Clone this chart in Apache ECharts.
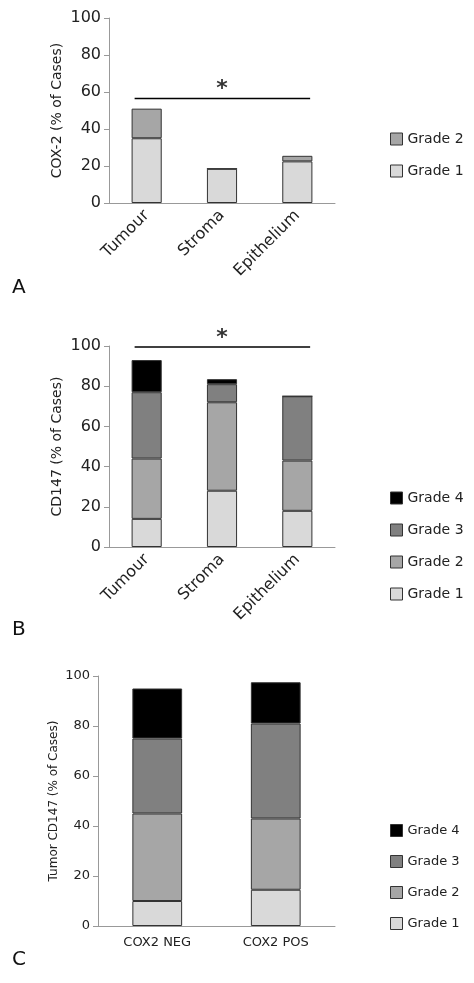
<!DOCTYPE html>
<html>
<head>
<meta charset="utf-8">
<script src="https://cdn.jsdelivr.net/npm/echarts@6/dist/echarts.min.js"></script>
<style>html,body{margin:0;background:#fff}#c{width:474px;height:983px}</style>
</head>
<body>
<div id="c"></div>
<script>
var sites = ['Tumour', 'Stroma', 'Epithelium'];
var groups = ['COX2 NEG', 'COX2 POS'];
var yTicks = [0, 20, 40, 60, 80, 100];
// panel A: COX-2
var coxG1 = [35, 18.5, 22.5];
var coxG2 = [16, 0, 3];
// panel B: CD147
var cdG1 = [14, 28, 18];
var cdG2 = [30, 44, 25];
var cdG3 = [33, 9, 32];
var cdG4 = [16, 2.5, 0];
// panel C: tumour CD147 by COX2
var tG1 = [10, 14.5];
var tG2 = [35, 28.5];
var tG3 = [30, 38];
var tG4 = [20, 16.5];
var sigA = 56.5, sigB = 99.5;

var colors = {'Grade 1': '#d9d9d9', 'Grade 2': '#a6a6a6', 'Grade 3': '#808080', 'Grade 4': '#000000'};
var font = 'DejaVu Sans';

function bar(name, data, idx, stack) {
  return {
    type: 'bar', name: name, data: data, stack: stack,
    xAxisIndex: idx, yAxisIndex: idx, barWidth: idx == 2 ? '42%' : '40%',
    itemStyle: {color: colors[name], borderColor: '#333', borderWidth: 1}
  };
}
function catAxis(cats, idx, rot, fs) {
  return {
    type: 'category', data: cats, gridIndex: idx,
    axisLine: {onZero: false, lineStyle: {color: '#999'}},
    axisTick: {length: 6, lineStyle: {color: '#999'}},
    axisLabel: {rotate: rot, color: '#222', fontSize: fs, fontFamily: font, margin: 10}
  };
}
function valAxis(idx, name, fs, nfs, gap) {
  return {
    type: 'value', gridIndex: idx, min: 0, max: 100, interval: 20,
    name: name, nameLocation: 'middle', nameGap: gap,
    nameTextStyle: {color: '#222', fontSize: nfs, fontFamily: font},
    axisLine: {show: true, onZero: false, lineStyle: {color: '#999'}},
    axisTick: {show: true, length: 5, lineStyle: {color: '#999'}},
    splitLine: {show: false},
    axisLabel: {color: '#222', fontSize: fs, fontFamily: font,
      formatter: function (v) { return yTicks.indexOf(v) >= 0 ? v : ''; }}
  };
}
function hiddenX(idx, n) {
  return {type: 'value', gridIndex: idx, min: -0.5, max: n - 0.5, show: false, axisLine: {onZero: false}};
}
function legend(top, names, fs) {
  return {orient: 'vertical', left: 385, top: top, icon: 'rect', itemWidth: 12, itemHeight: 12, itemGap: 18,
    data: names, textStyle: {fontSize: fs, fontFamily: font, color: '#222'},
    itemStyle: {borderColor: '#333', borderWidth: 1}};
}
function star(idx, y) {
  return {type: 'scatter', xAxisIndex: idx, yAxisIndex: idx - 3, data: [[1, y]], symbolSize: 0, silent: true,
    label: {show: true, formatter: '*', position: 'top', distance: -2, fontSize: 22, fontWeight: 'bold', fontFamily: font, color: '#000'}};
}
function sigLine(idx, y) {
  return {type: 'line', xAxisIndex: idx, yAxisIndex: idx - 3, data: [[-0.16, y], [2.17, y]], symbol: 'none',
    lineStyle: {color: '#000', width: 1.5}, silent: true};
}

var option = {
  animation: false,
  grid: [
    {left: 109, width: 226, top: 18, height: 185},
    {left: 109, width: 226, top: 346, height: 201},
    {left: 98, width: 237, top: 676, height: 250}
  ],
  xAxis: [
    catAxis(sites, 0, 45, 16), catAxis(sites, 1, 45, 16), catAxis(groups, 2, 0, 13),
    hiddenX(0, 3), hiddenX(1, 3)
  ],
  yAxis: [
    valAxis(0, 'COX-2 (% of Cases)', 16, 14, 45),
    valAxis(1, 'CD147 (% of Cases)', 16, 14, 45),
    valAxis(2, 'Tumor CD147 (% of Cases)', 13, 12, 38)
  ],
  legend: [
    legend(127, ['Grade 2', 'Grade 1'], 14),
    legend(486, ['Grade 4', 'Grade 3', 'Grade 2', 'Grade 1'], 14),
    legend(819, ['Grade 4', 'Grade 3', 'Grade 2', 'Grade 1'], 13)
  ],
  graphic: [
    {type: 'text', left: 12, top: 278, style: {text: 'A', fontSize: 20, fontFamily: font, fill: '#111'}},
    {type: 'text', left: 12, top: 620, style: {text: 'B', fontSize: 20, fontFamily: font, fill: '#111'}},
    {type: 'text', left: 12, top: 950, style: {text: 'C', fontSize: 20, fontFamily: font, fill: '#111'}}
  ],
  series: [
    bar('Grade 1', coxG1, 0, 'a'), bar('Grade 2', coxG2, 0, 'a'),
    bar('Grade 1', cdG1, 1, 'b'), bar('Grade 2', cdG2, 1, 'b'), bar('Grade 3', cdG3, 1, 'b'), bar('Grade 4', cdG4, 1, 'b'),
    bar('Grade 1', tG1, 2, 'c'), bar('Grade 2', tG2, 2, 'c'), bar('Grade 3', tG3, 2, 'c'), bar('Grade 4', tG4, 2, 'c'),
    sigLine(3, sigA), sigLine(4, sigB), star(3, sigA), star(4, sigB)
  ]
};
echarts.init(document.getElementById('c')).setOption(option);
</script>
</body>
</html>
